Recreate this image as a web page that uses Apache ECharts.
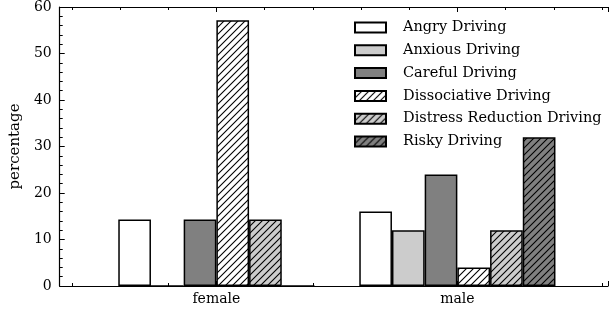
<!DOCTYPE html>
<html>
<head>
<meta charset="utf-8">
<script src="https://cdn.jsdelivr.net/npm/echarts@6/dist/echarts.min.js"></script>
<style>html,body{margin:0;padding:0;background:#fff}#c{width:611px;height:313px}</style>
</head>
<body>
<div id="c"></div>
<script>
const categories = ['female', 'male'];
const seriesNames = ['Angry Driving', 'Anxious Driving', 'Careful Driving', 'Dissociative Driving', 'Distress Reduction Driving', 'Risky Driving'];
const angry = [14.29, 16];
const anxious = [0, 12];
const careful = [14.29, 24];
const dissociative = [57.14, 4];
const distress = [14.29, 12];
const risky = [0, 32];
const yTicks = [0, 10, 20, 30, 40, 50, 60];
const seriesValues = [angry, anxious, careful, dissociative, distress, risky];

function hatch(bg) {
  const s = 7;
  const c = document.createElement('canvas');
  c.width = s; c.height = s;
  const g = c.getContext('2d');
  g.fillStyle = bg; g.fillRect(0, 0, s, s);
  g.strokeStyle = '#000'; g.lineWidth = 1.1;
  g.beginPath();
  g.moveTo(-1, s + 1); g.lineTo(s + 1, -1);
  g.moveTo(-1, 1); g.lineTo(1, -1);
  g.moveTo(s - 1, s + 1); g.lineTo(s + 1, s - 1);
  g.stroke();
  return { image: c, repeat: 'repeat' };
}
const fills = ['#ffffff', '#cccccc', '#808080', hatch('#ffffff'), hatch('#cccccc'), hatch('#808080')];
const font = 'DejaVu Serif';

const chart = echarts.init(document.getElementById('c'), null, { renderer: 'canvas' });
const xCommon = {
  type: 'value', min: -0.65, max: 1.625, minInterval: 1, maxInterval: 1,
  axisLine: { show: true, onZero: false, lineStyle: { color: '#000', width: 1.2 } },
  axisTick: { show: true, inside: true, length: 5, lineStyle: { color: '#000', width: 1 } },
  minorTick: { show: true, splitNumber: 5, length: 3, lineStyle: { color: '#000', width: 1 } },
  splitLine: { show: false }, minorSplitLine: { show: false }
};
chart.setOption({
  animation: false,
  backgroundColor: '#fff',
  grid: { left: 56, right: -2, top: 6, bottom: 27, containLabel: false },
  legend: {
    orient: 'vertical', left: 349, top: 15, itemWidth: 31, itemHeight: 10, itemGap: 7.8,
    icon: 'rect', data: seriesNames,
    textStyle: { fontFamily: font, fontSize: 14.5, color: '#000', padding: [0, 0, 0, 12], lineHeight: 13 }
  },
  xAxis: [
    Object.assign({}, xCommon, {
      position: 'bottom',
      axisLabel: {
        show: true, margin: 6, fontFamily: font, fontSize: 14, color: '#000',
        showMinLabel: true, showMaxLabel: true,
        formatter: function (v) {
          for (let i = 0; i < categories.length; i++) if (Math.abs(v - i) < 1e-6) return categories[i];
          return '';
        }
      }
    }),
    Object.assign({}, xCommon, { position: 'top', axisLabel: { show: false } })
  ],
  yAxis: {
    type: 'value', min: yTicks[0], max: yTicks[yTicks.length - 1], interval: 10,
    name: 'percentage', nameLocation: 'middle', nameGap: 33, nameRotate: 90,
    nameTextStyle: { fontFamily: font, fontSize: 15, color: '#000' },
    axisLine: { show: true, onZero: false, lineStyle: { color: '#000', width: 1.2 } },
    axisTick: { show: true, inside: true, length: 5, lineStyle: { color: '#000', width: 1 } },
    minorTick: { show: true, splitNumber: 5, length: 3, lineStyle: { color: '#000', width: 1 } },
    axisLabel: { margin: 8, fontFamily: font, fontSize: 14, color: '#000' },
    splitLine: { show: false }
  },
  series: seriesNames.map(function (n, k) {
    return {
      name: n, type: 'bar', xAxisIndex: 0, barWidth: 32.7, barGap: '0%',
      itemStyle: { color: fills[k], borderColor: '#000', borderWidth: 1.5 },
      data: seriesValues[k].map(function (v, i) { return [i, v]; })
    };
  })
});
</script>
</body>
</html>
